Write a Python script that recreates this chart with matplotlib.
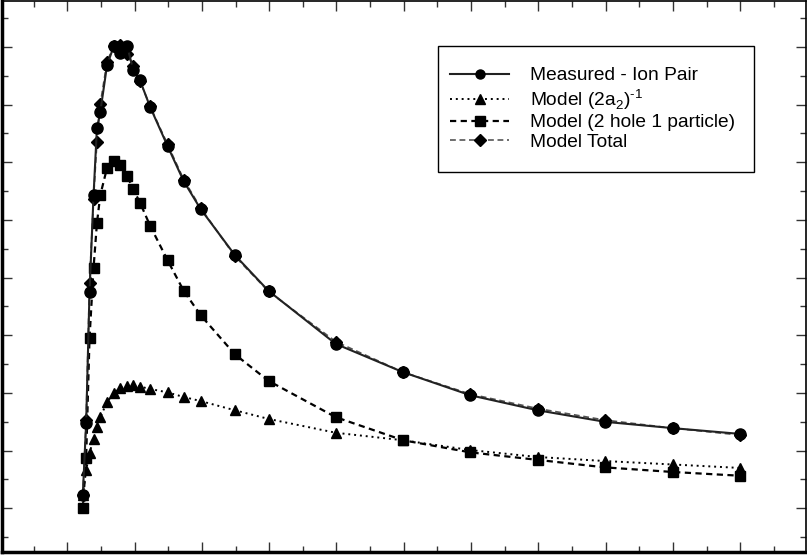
import matplotlib
matplotlib.use("Agg")
import matplotlib.pyplot as plt
from matplotlib.ticker import MultipleLocator
from matplotlib.patches import Rectangle

plt.rcParams['font.family'] = ['Liberation Sans', 'DejaVu Sans']
plt.rcParams['mathtext.fontset'] = 'custom'
plt.rcParams['mathtext.rm'] = 'Liberation Sans'

x = [1.23, 1.28, 1.33, 1.39, 1.44, 1.49, 1.59, 1.69, 1.79, 1.89, 1.98, 2.08,
     2.23, 2.49, 2.73, 2.98, 3.49, 3.99, 4.99, 5.99, 6.99, 7.99, 8.99, 10.0, 11.0]

measured = [0.23, 1.48, 3.75, 5.43, 6.59, 6.87, 7.68, 8.01, 7.89, 8.01, 7.60, 7.42,
            6.96, 6.28, 5.67, 5.19, 4.39, 3.77, 2.85, 2.36, 1.96, 1.70, 1.50, 1.39, 1.29]

model_a2 = [0.23, 0.66, 0.96, 1.20, 1.41, 1.58, 1.84, 2.00, 2.085, 2.12, 2.13, 2.11,
            2.07, 2.01, 1.93, 1.86, 1.70, 1.55, 1.31, 1.18, 1.01, 0.89, 0.82, 0.76, 0.70]

model_2h1p = [0.0, 0.87, 2.95, 4.17, 4.94, 5.43, 5.90, 6.02, 5.95, 5.76, 5.53, 5.30,
              4.90, 4.30, 3.77, 3.35, 2.67, 2.21, 1.58, 1.18, 0.97, 0.84, 0.71, 0.63, 0.565]

model_total = [0.23, 1.53, 3.91, 5.37, 6.35, 7.01, 7.74, 8.02, 8.04, 7.88, 7.66, 7.41,
               6.97, 6.31, 5.70, 5.21, 4.37, 3.76, 2.89, 2.36, 1.98, 1.73, 1.53, 1.39, 1.27]

labels = ['Measured - Ion Pair', 'Model (2a$_\\mathregular{2}$)$^\\mathregular{\u20101}$',
          'Model (2 hole 1 particle)', 'Model Total']

W, H = 807, 555
fig = plt.figure(figsize=(W / 100, H / 100), dpi=100)
ax = fig.add_axes([1.5 / W, 3 / H, 804 / W, 551 / H])

l_tot, = ax.plot(x, model_total, linestyle=(0, (3.5, 2.2)), color='#555555', lw=1.2,
                 marker='D', ms=6, mfc='black', mec='black', zorder=3)
l_a2, = ax.plot(x, model_a2, linestyle=(0, (1, 2.0)), color='black', lw=1.4,
                marker='^', ms=7.5, mfc='black', mec='black', zorder=4)
l_sq, = ax.plot(x, model_2h1p, linestyle=(0, (2.8, 2.0)), color='black', lw=1.6,
                marker='s', ms=7.2, mfc='black', mec='black', zorder=4)
l_me, = ax.plot(x, measured, linestyle='-', color='#222222', lw=1.5,
                marker='o', ms=8, mfc='black', mec='black', zorder=5)

ax.set_xlim(0.022, 11.97)
ax.set_ylim(-0.757, 8.795)

ax.xaxis.set_major_locator(MultipleLocator(1))
ax.xaxis.set_minor_locator(MultipleLocator(0.5))
ax.yaxis.set_major_locator(MultipleLocator(1))
ax.yaxis.set_minor_locator(MultipleLocator(0.5))
ax.tick_params(which='both', direction='in', top=True, right=True,
               labelbottom=False, labelleft=False, width=1, color='#333333')
ax.tick_params(which='major', length=7)
ax.tick_params(which='minor', length=4)
for side in ['left', 'bottom']:
    ax.spines[side].set_linewidth(2.5)
for side in ['top', 'right']:
    ax.spines[side].set_linewidth(1.2)

leg = ax.legend([l_me, l_a2, l_sq, l_tot], labels,
                loc='upper left', bbox_to_anchor=(450 / W, 1 - 67 / H),
                bbox_transform=fig.transFigure,
                frameon=False, fontsize=13.8, handlelength=3.1, handletextpad=1.1,
                borderpad=0, labelspacing=0.12, borderaxespad=0)
for h in leg.legend_handles:
    h.set_markersize(6.5)

fig.patches.append(Rectangle((438 / W, 1 - 172 / H), 316 / W, 126 / H,
                             transform=fig.transFigure, fill=False,
                             edgecolor='black', lw=1.0, zorder=10))

fig.savefig('out.png', dpi=100)
